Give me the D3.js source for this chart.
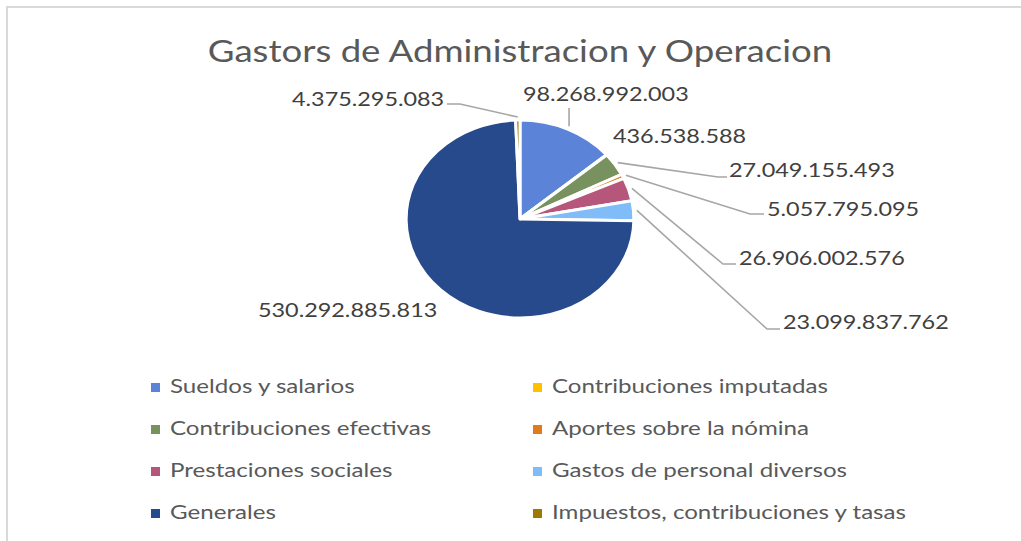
<!DOCTYPE html>
<html>
<head>
<meta charset="utf-8">
<script src="https://cdn.jsdelivr.net/npm/d3@7"></script>
<style>
  html, body { margin: 0; padding: 0; background: #fff; }
  svg { display: block; }
  text { font-family: Lato, "Open Sans", sans-serif; }
</style>
</head>
<body>
<svg id="chart" width="1021" height="541"></svg>
<script>
// Expense categories, in drawing order (clockwise from 12 o'clock)
const categories = [
  "Sueldos y salarios",
  "Contribuciones imputadas",
  "Contribuciones efectivas",
  "Aportes sobre la nómina",
  "Prestaciones sociales",
  "Gastos de personal diversos",
  "Generales",
  "Impuestos, contribuciones y tasas"
];
const values = [
  98268992003,
  436538588,
  27049155493,
  5057795095,
  26906002576,
  23099837762,
  530292885813,
  4375295083
];
const colors = ["#5B84D8", "#FFC000", "#77925F", "#E07B1A", "#B5567A", "#80BDF8", "#264A8C", "#9E7800"];
const chartTitle = "Gastors de Administracion y Operacion";

// Layout
const W = 1021, H = 541;
const CX = 520, CY = 219, R = 99;
const PIE_SX = 1.15;     // horizontal stretch of the plot
const TEXT_SX = 1.2;     // horizontal stretch of the lettering
const LEGEND_SX = 1.27;

// Data label placement: left x, baseline y, and leader-line bend points
const labelLayout = [
  { x: 523, y: 101, leader: "vertical", top: 108 },
  { x: 613, y: 143, leader: null },
  { x: 729, y: 177, leader: [[718, 177], [727, 177]] },
  { x: 767, y: 216, leader: [[750, 214], [764, 214]] },
  { x: 739, y: 265, leader: [[723, 264], [736, 264]] },
  { x: 783, y: 329, leader: [[767, 329], [780, 329]] },
  { x: 258, y: 317, leader: null },
  { x: 292, y: 106, leader: [[460, 104], [447, 104]] }
];

const fmt = d3.formatLocale({ decimal: ",", thousands: ".", grouping: [3], currency: ["$", ""] }).format(",d");

const svg = d3.select("#chart");
svg.append("rect").attr("width", W).attr("height", H).attr("fill", "#fff");

// Chart area frame (left and top edges visible)
svg.append("path")
  .attr("d", `M7,${H + 5} V7 H${W + 5}`)
  .attr("fill", "none")
  .attr("stroke", "#D9D9D9")
  .attr("stroke-width", 2);

function stretchedText(parent, x, y, str, size, color, anchor, sx) {
  return parent.append("text")
    .attr("transform", `translate(${x},${y}) scale(${sx || TEXT_SX},1)`)
    .attr("text-anchor", anchor || "start")
    .attr("font-size", size)
    .attr("fill", color)
    .text(str);
}

// Title
stretchedText(svg, CX, 62, chartTitle, 30.5, "#595959", "middle");

// Pie
const data = categories.map((c, i) => ({ name: c, value: values[i], color: colors[i], i }));
const pie = d3.pie().value(d => d.value).sort(null).startAngle(0).endAngle(2 * Math.PI);
const arcs = pie(data);
const arc = d3.arc().innerRadius(0).outerRadius(R);

const pieG = svg.append("g").attr("transform", `translate(${CX},${CY}) scale(${PIE_SX},1)`);
pieG.selectAll("path")
  .data(arcs)
  .join("path")
  .attr("d", arc)
  .attr("fill", d => d.data.color)
  .attr("stroke", "#fff")
  .attr("stroke-width", 3)
  .attr("stroke-linejoin", "round")
  .attr("vector-effect", "non-scaling-stroke");

// Leader lines start just outside the slice edge at its mid angle
const edgeArc = d3.arc().innerRadius(R + 3).outerRadius(R + 3);
function edgePoint(a) {
  const [x, y] = edgeArc.centroid(a);
  return [CX + x * PIE_SX, CY + y];
}

const leaderG = svg.append("g");
arcs.forEach((a, i) => {
  const L = labelLayout[i];
  if (!L.leader) return;
  const p0 = edgePoint(a);
  const pts = L.leader === "vertical" ? [p0, [p0[0], L.top]] : [p0, ...L.leader];
  leaderG.append("path")
    .attr("d", d3.line()(pts))
    .attr("fill", "none")
    .attr("stroke", "#A6A6A6")
    .attr("stroke-width", 1.6);
});

// Data labels
const labelG = svg.append("g");
arcs.forEach((a, i) => {
  const L = labelLayout[i];
  stretchedText(labelG, L.x, L.y, fmt(a.data.value), 19.5, "#404040");
});

// Legend: two columns, four rows
const legendCols = [151, 533];
const legendRow0 = 393, legendStep = 42;
const legendG = svg.append("g");
data.forEach((d, i) => {
  const col = i % 2, row = Math.floor(i / 2);
  const x = legendCols[col], y = legendRow0 + row * legendStep;
  legendG.append("rect")
    .attr("x", x).attr("y", y - 10)
    .attr("width", 9).attr("height", 9)
    .attr("fill", d.color);
  stretchedText(legendG, x + 19, y, d.name, 19, "#595959", "start", LEGEND_SX);
});
</script>
</body>
</html>
